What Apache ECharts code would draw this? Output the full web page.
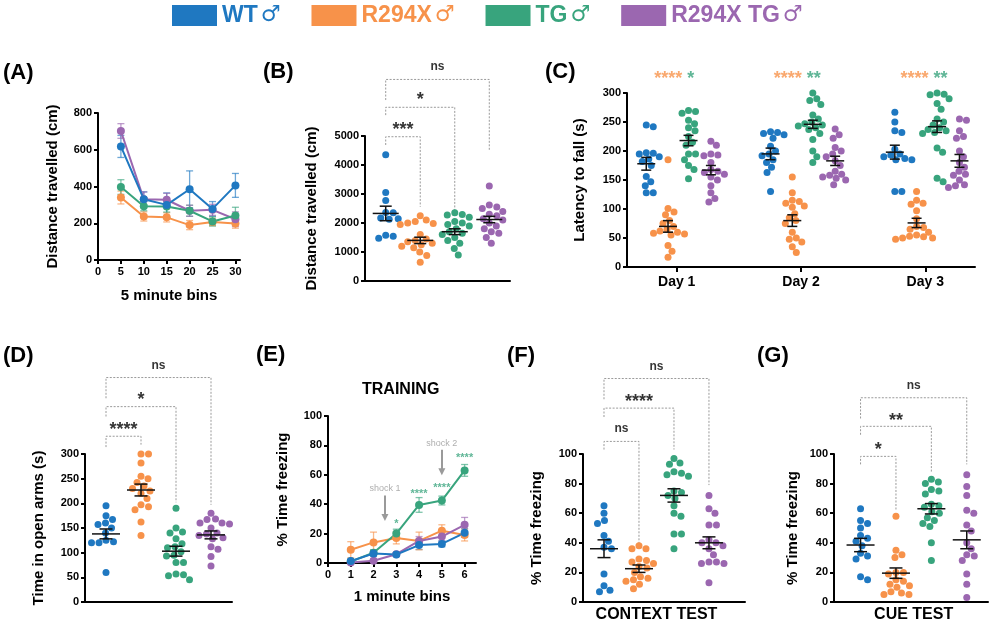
<!DOCTYPE html>
<html><head><meta charset="utf-8">
<script src="https://cdn.jsdelivr.net/npm/echarts@6/dist/echarts.min.js"></script>
<style>html,body{margin:0;padding:0;background:#fff}#c{width:993px;height:627px}</style>
</head><body><div id="c"></div>
<script>
// ---------- DATA ----------
const groups = ['WT♂', 'R294X♂', 'TG♂', 'R294X TG♂'];
const colors = ['#1f78c1', '#f7924a', '#38a47d', '#9b67b0'];

// (A) distance travelled, 5-minute bins
const binsA = [5, 10, 15, 20, 25, 30];
const A_WT = [618, 331, 300, 385, 278, 406];
const A_WT_err = [60, 40, 65, 100, 40, 65];
const A_R = [340, 237, 232, 190, 207, 198];
const A_R_err = [35, 25, 25, 25, 20, 25];
const A_TG = [397, 293, 291, 268, 210, 242];
const A_TG_err = [40, 25, 30, 30, 25, 45];
const A_RTG = [702, 330, 328, 268, 273, 222];
const A_RTG_err = [40, 40, 35, 30, 30, 40];

// (B) total distance travelled (cm)
const B_WT = [4350, 3050, 2780, 2360, 2350, 2170, 2150, 2130, 1580, 1540, 1470];
const B_R = [2250, 2100, 2050, 2000, 1980, 1950, 1600, 1450, 1400, 1350, 1300, 1250, 1200, 1150, 1000, 880, 650];
const B_TG = [2350, 2290, 2280, 2200, 2050, 2000, 1950, 1900, 1800, 1700, 1650, 1600, 1500, 1400, 1300, 1120, 900];
const B_RTG = [3280, 2620, 2550, 2500, 2400, 2300, 2250, 2150, 2100, 2000, 1900, 1800, 1700, 1650, 1500, 1300];
const B_mean = [2330, 1400, 1700, 2120];
const B_sem = [250, 110, 100, 110];

// (C) latency to fall (s), days 1-3
const days = [1, 2, 3];
const C_WT = [
  [245, 242, 197, 195, 196, 190, 186, 182, 175, 156, 147, 140, 128, 128],
  [233, 232, 230, 228, 222, 208, 200, 195, 192, 185, 180, 172, 163, 130],
  [267, 250, 235, 232, 203, 195, 193, 190, 187, 185, 185, 130, 130]];
const C_R = [
  [185, 101, 95, 90, 80, 75, 70, 65, 62, 60, 58, 57, 55, 37, 27, 17],
  [155, 128, 115, 113, 110, 105, 103, 92, 85, 80, 75, 60, 50, 48, 43, 35, 25],
  [130, 115, 110, 108, 97, 83, 70, 68, 65, 60, 55, 53, 52, 50, 50, 48]];
const C_TG = [
  [270, 268, 265, 253, 247, 240, 235, 225, 215, 210, 195, 195, 185, 175, 168, 152],
  [300, 290, 287, 280, 262, 255, 250, 247, 245, 243, 240, 237, 230, 220, 200, 190, 180],
  [300, 298, 297, 290, 282, 272, 255, 250, 245, 240, 237, 235, 232, 230, 205, 198, 153, 147]];
const C_RTG = [
  [217, 210, 195, 193, 192, 180, 168, 165, 163, 160, 155, 150, 140, 128, 118, 112],
  [238, 228, 222, 206, 200, 195, 190, 183, 175, 165, 160, 158, 155, 153, 150, 142],
  [255, 253, 235, 225, 222, 200, 190, 180, 172, 165, 160, 158, 150, 142, 140, 137]];
const C_mean = [[178, 195, 198], [70, 80, 76], [218, 246, 242], [167, 183, 183]];
const C_sem = [[11, 10, 12], [10, 10, 8], [9, 7, 10], [8, 8, 11]];

// (D) time in open arms (s)
const D_WT = [195, 175, 167, 160, 157, 150, 140, 125, 122, 120, 120, 60];
const D_R = [300, 300, 282, 255, 250, 242, 235, 230, 225, 220, 210, 197, 193, 187, 162, 135];
const D_TG = [190, 150, 142, 140, 128, 118, 112, 110, 102, 95, 93, 80, 80, 57, 55, 53, 45];
const D_RTG = [180, 168, 167, 160, 160, 158, 150, 140, 138, 135, 130, 128, 112, 107, 92, 73];
const D_mean = [138, 227, 103, 136];
const D_sem = [10, 12, 10, 8];

// (E) training, % time freezing per 1-minute bin
const binsE = [1, 2, 3, 4, 5, 6];
const E_WT = [1.3, 6.5, 5.8, 12.2, 13, 20.5];
const E_WT_err = [1, 2, 1, 3, 2, 3];
const E_R = [9, 14, 17, 15, 22, 19];
const E_R_err = [5.5, 7, 4, 6, 4, 4];
const E_TG = [1, 7, 20, 39.5, 42.5, 63];
const E_TG_err = [1, 2, 3, 5, 3, 4];
const E_RTG = [0.3, 1.5, 6, 15, 18, 26];
const E_RTG_err = [0.5, 1, 1, 3, 3, 5];

// (F) context test, % time freezing
const F_WT = [65, 60, 55, 53, 45, 41, 37, 36, 19, 11, 8, 7];
const F_R = [38, 36, 36, 29, 28, 27, 26, 24, 23, 20, 17, 16, 15, 14, 12, 9];
const F_TG = [97, 94, 93, 88, 87, 86, 85, 75, 74, 72, 70, 65, 60, 58, 46, 46, 36];
const F_RTG = [72, 63, 60, 52, 52, 42, 40, 40, 38, 36, 32, 27, 27, 26, 26, 13];
const F_mean = [36, 22.5, 72, 40];
const F_sem = [6, 2.5, 4.5, 4];

// (G) cue test, % time freezing
const G_WT = [63, 55, 53, 50, 45, 43, 41, 38, 33, 31, 29, 17, 15];
const G_R = [58, 35, 32, 30, 20, 20, 19, 15, 14, 12, 11, 10, 7, 6, 5, 5];
const G_TG = [83, 81, 80, 76, 75, 73, 66, 65, 64, 61, 60, 57, 55, 53, 51, 40, 28];
const G_RTG = [86, 78, 72, 62, 60, 52, 48, 40, 36, 32, 31, 28, 19, 12, 3];
const G_mean = [38.5, 19.5, 63, 42];
const G_sem = [4.5, 3.5, 3.5, 6];

// ---------- LAYOUT / HELPERS ----------
const F = 'Liberation Sans, Arial, Helvetica, sans-serif';
const grids = [
  {left: 98, top: 113, width: 142, height: 147},   // A
  {left: 365, top: 136, width: 145, height: 145},  // B
  {left: 627, top: 93, width: 348, height: 174},   // C
  {left: 85, top: 454, width: 147, height: 148},   // D
  {left: 328, top: 416, width: 148, height: 147},  // E
  {left: 583, top: 454, width: 162, height: 148},  // F
  {left: 834, top: 454, width: 154, height: 148}   // G
];
const xr = [[0, 31], [-0.6, 3.6], [0.6, 3.4], [-0.6, 3.6], [0, 6.5], [-0.6, 4.03], [-0.75, 3.6]];
const yr = [[0, 800, 200], [0, 5000, 1000], [0, 300, 50], [0, 300, 50], [0, 100, 20], [0, 100, 20], [0, 100, 20]];
const yNames = ['Distance travelled (cm)', 'Distance travelled (cm)', 'Latency to fall (s)', 'Time in open arms (s)',
  '% Time freezing', '% Time freezing', '% Time freezing'];
const yGaps = [38, 46, 40, 39, 38, 39, 34];

const pxX = i => grids[i].width / (xr[i][1] - xr[i][0]);
const pxY = i => grids[i].height / (yr[i][1] - yr[i][0]);

function swarm(vals, cx, gi, d) {
  const sx = pxX(gi), sy = pxY(gi);
  const placed = [], out = new Array(vals.length);
  const order = vals.map((v, i) => i).sort((a, b) => vals[b] - vals[a]);
  for (const i of order) {
    const y = vals[i] * sy;
    let dx = 0;
    for (let k = 0; k < 400; k++) {
      const c = k === 0 ? 0 : (k % 2 ? 1 : -1) * Math.ceil(k / 2) * 0.5;
      if (placed.every(p => (p[0] - c) ** 2 + (p[1] - y) ** 2 >= d * d)) { dx = c; break; }
    }
    placed.push([dx, y]);
    out[i] = [cx + dx / sx, vals[i]];
  }
  return out;
}

const boldTxt = (size, color) => ({fontFamily: F, fontWeight: 'bold', fontSize: size, color: color || '#000'});

const xAxes = [], yAxes = [];
grids.forEach((g, i) => {
  const base = {
    type: 'value', gridIndex: i, min: xr[i][0], max: xr[i][1],
    axisLine: {show: true, onZero: false, lineStyle: {color: '#000', width: 2}},
    axisTick: {show: false}, axisLabel: {show: false}, splitLine: {show: false}
  };
  if (i === 0 || i === 4) {
    const vals = i === 0 ? [0, 5, 10, 15, 20, 25, 30] : [0, 1, 2, 3, 4, 5, 6];
    base.axisTick = {show: true, length: 4, customValues: vals, lineStyle: {color: '#000', width: 2}};
    base.axisLabel = Object.assign({show: true, margin: 6, customValues: vals}, boldTxt(11));
    base.name = i === 0 ? '5 minute bins' : '1 minute bins';
    base.nameLocation = 'middle';
    base.nameGap = i === 0 ? 28 : 26;
    base.nameTextStyle = boldTxt(15);
  } else if (i === 2) {
    base.axisTick = {show: true, length: 5, customValues: days, lineStyle: {color: '#000', width: 2}};
    base.axisLabel = Object.assign({show: true, margin: 8, customValues: days, formatter: v => 'Day ' + v}, boldTxt(14));
  } else if (i === 5 || i === 6) {
    base.axisLabel = Object.assign({show: true, margin: 5, customValues: [1.5],
      formatter: () => (i === 5 ? 'CONTEXT TEST' : 'CUE TEST')}, boldTxt(16));
  }
  xAxes.push(base);
  yAxes.push({
    type: 'value', gridIndex: i, min: yr[i][0], max: yr[i][1], interval: yr[i][2],
    name: yNames[i], nameLocation: 'middle', nameGap: yGaps[i], nameTextStyle: boldTxt(15),
    axisLine: {show: true, onZero: false, lineStyle: {color: '#000', width: 2}},
    axisTick: {show: true, length: 4, lineStyle: {color: '#000', width: 2}},
    axisLabel: Object.assign({margin: 6, formatter: v => String(v)}, boldTxt(11)),
    splitLine: {show: false}
  });
});

const series = [];

function errSeries(gi, xs, m, e, color, cw) {
  series.push({
    type: 'custom', xAxisIndex: gi, yAxisIndex: gi, silent: true, z: 3,
    data: xs.map((x, k) => [x, m[k], e[k]]), encode: {x: 0, y: 1},
    renderItem(p, api) {
      const x = api.value(0), mm = api.value(1), s = api.value(2);
      const t = api.coord([x, mm + s]), b = api.coord([x, Math.max(mm - s, 0)]);
      const st = {stroke: color, lineWidth: 1.3, opacity: 0.65};
      return {type: 'group', children: [
        {type: 'line', shape: {x1: t[0], y1: t[1], x2: b[0], y2: b[1]}, style: st},
        {type: 'line', shape: {x1: t[0] - cw, y1: t[1], x2: t[0] + cw, y2: t[1]}, style: st},
        {type: 'line', shape: {x1: b[0] - cw, y1: b[1], x2: b[0] + cw, y2: b[1]}, style: st}]};
    }
  });
}
function lineSeries(gi, xs, m, color, name) {
  series.push({
    type: 'line', name: name, xAxisIndex: gi, yAxisIndex: gi, data: xs.map((x, k) => [x, m[k]]),
    symbol: 'circle', symbolSize: 8, itemStyle: {color: color}, lineStyle: {color: color, width: 2}, z: 4, silent: true
  });
}
function meanSem(gi, items, hw, cw) {
  series.push({
    type: 'custom', xAxisIndex: gi, yAxisIndex: gi, silent: true, z: 10,
    data: items, encode: {x: 0, y: 1},
    renderItem(p, api) {
      const x = api.value(0), mm = api.value(1), s = api.value(2);
      const c = api.coord([x, mm]), t = api.coord([x, mm + s]), b = api.coord([x, mm - s]);
      const st = {stroke: '#111', lineWidth: 1.5};
      return {type: 'group', children: [
        {type: 'line', shape: {x1: c[0] - hw, y1: c[1], x2: c[0] + hw, y2: c[1]}, style: st},
        {type: 'line', shape: {x1: t[0], y1: t[1], x2: b[0], y2: b[1]}, style: st},
        {type: 'line', shape: {x1: t[0] - cw, y1: t[1], x2: t[0] + cw, y2: t[1]}, style: st},
        {type: 'line', shape: {x1: b[0] - cw, y1: b[1], x2: b[0] + cw, y2: b[1]}, style: st}]};
    }
  });
}
function dots(gi, pts, color) {
  series.push({type: 'scatter', xAxisIndex: gi, yAxisIndex: gi, data: pts, symbolSize: 7,
    itemStyle: {color: color, opacity: 1}, silent: true, z: 5});
}
function bracket(gi, x0, x1, yTop, yL, yR) {
  series.push({type: 'line', xAxisIndex: gi, yAxisIndex: gi, clip: false, silent: true, symbol: 'none',
    data: [[x0, yL], [x0, yTop], [x1, yTop], [x1, yR]],
    lineStyle: {color: '#9a9a9a', width: 1, type: [2, 1.5]}, z: 2});
}
function note(gi, x, y, text, size, color, align) {
  series.push({type: 'scatter', xAxisIndex: gi, yAxisIndex: gi, clip: false, silent: true, symbolSize: 0,
    data: [[x, y]], z: 6,
    label: {show: true, position: 'inside', formatter: text, fontFamily: F, fontWeight: 'bold',
      fontSize: size, color: color || '#000', align: align || 'center', verticalAlign: 'middle'}});
}

// (A)
const aSets = [[A_WT, A_WT_err], [A_R, A_R_err], [A_TG, A_TG_err], [A_RTG, A_RTG_err]];
aSets.forEach((s, g) => errSeries(0, binsA, s[0], s[1], colors[g], 3.5));
[1, 3, 2, 0].forEach(g => lineSeries(0, binsA, aSets[g][0], colors[g], groups[g]));

// dot-plot panels
function dotPanel(gi, sets, means, sems, hw, cw) {
  sets.forEach((v, g) => dots(gi, swarm(v, g, gi, 7.4), colors[g]));
  meanSem(gi, means.map((m, g) => [g, m, sems[g]]), hw, cw);
}
dotPanel(1, [B_WT, B_R, B_TG, B_RTG], B_mean, B_sem, 13, 6);
dotPanel(3, [D_WT, D_R, D_TG, D_RTG], D_mean, D_sem, 14, 6.5);
dotPanel(5, [F_WT, F_R, F_TG, F_RTG], F_mean, F_sem, 14, 6.5);
dotPanel(6, [G_WT, G_R, G_TG, G_RTG], G_mean, G_sem, 14, 6.5);

// (C)
const cOff = [-0.245, -0.07, 0.095, 0.275];
const cSets = [C_WT, C_R, C_TG, C_RTG];
cSets.forEach((set, g) => {
  let pts = [];
  days.forEach((d, k) => { pts = pts.concat(swarm(set[k], d + cOff[g], 2, 6.8)); });
  dots(2, pts, colors[g]);
});
const cItems = [];
cSets.forEach((set, g) => days.forEach((d, k) => cItems.push([d + cOff[g], C_mean[g][k], C_sem[g][k]])));
meanSem(2, cItems, 9, 5);
series.push({type: 'scatter', xAxisIndex: 2, yAxisIndex: 2, clip: false, silent: true, symbolSize: 0, z: 6,
  data: [[0.98, 324, '*'], [1.97, 324, '**'], [2.99, 324, '**']],
  label: {show: true, position: 'inside', formatter: p => '{o|****}{g| ' + p.value[2] + '}',
    rich: {o: boldTxt(18, colors[1]), g: boldTxt(18, colors[2])}}});

// brackets and significance labels
bracket(1, 0, 3, 6950, 6240, 4520); note(1, 1.5, 7390, 'ns', 12);
bracket(1, 0, 2, 5990, 5720, 2450); note(1, 1, 6230, '*', 18);
bracket(1, 0, 1, 4975, 4690, 2560); note(1, 0.5, 5190, '***', 18);

bracket(3, 0, 3, 455, 413, 197); note(3, 1.5, 479, 'ns', 12);
bracket(3, 0, 2, 396, 376, 202); note(3, 1, 409, '*', 18);
bracket(3, 0, 1, 336, 314, 319); note(3, 0.5, 349, '****', 18);

bracket(5, 0, 3, 151, 137, 79); note(5, 1.5, 159, 'ns', 12);
bracket(5, 0, 2, 131, 125, 103); note(5, 1, 135, '****', 18);
bracket(5, 0, 1, 108.5, 103, 38); note(5, 0.5, 117, 'ns', 12);

bracket(6, 0, 3, 138, 124, 93); note(6, 1.5, 146, 'ns', 12);
bracket(6, 0, 2, 118.7, 113, 88); note(6, 1, 122, '**', 18);
bracket(6, 0, 1, 98.4, 93, 62); note(6, 0.5, 102.7, '*', 18);

// (E)
const eSets = [[E_WT, E_WT_err], [E_R, E_R_err], [E_TG, E_TG_err], [E_RTG, E_RTG_err]];
eSets.forEach((s, g) => errSeries(4, binsE, s[0], s[1], colors[g], 3.5));
[1, 2, 3, 0].forEach(g => lineSeries(4, binsE, eSets[g][0], colors[g], groups[g]));
note(4, 3, 26.8, '*', 11, colors[2]);
note(4, 4, 47.2, '****', 11, colors[2]);
note(4, 5, 51.1, '****', 11, colors[2]);
note(4, 6, 71.5, '****', 11, colors[2]);
series.push({type: 'scatter', xAxisIndex: 4, yAxisIndex: 4, clip: false, silent: true, symbolSize: 0, z: 6,
  data: [[2.5, 51, 'shock 1'], [5, 81.6, 'shock 2']],
  label: {show: true, position: 'inside', formatter: p => p.value[2], fontFamily: F, fontSize: 9, color: '#9a9a9a'},
  markLine: {silent: true, symbol: ['none', 'triangle'], symbolSize: [7, 7], label: {show: false},
    lineStyle: {color: '#9a9a9a', width: 2, type: 'solid'},
    data: [[{coord: [2.5, 46]}, {coord: [2.5, 31]}], [{coord: [5, 77]}, {coord: [5, 62]}]]}});

const panelLabels = [['(A)', 3, 74], ['(B)', 263, 73], ['(C)', 545, 73], ['(D)', 3, 357], ['(E)', 256, 356], ['(F)', 507, 357], ['(G)', 757, 357]];

const chart = echarts.init(document.getElementById('c'), null, {renderer: 'canvas'});
chart.setOption({
  animation: false,
  backgroundColor: '#fff',
  grid: grids.map(g => Object.assign({containLabel: false}, g)),
  xAxis: xAxes, yAxis: yAxes,
  legend: {left: 172, top: 4, padding: 0, itemWidth: 45, itemHeight: 21, itemGap: 31, icon: 'rect', selectedMode: false,
    textStyle: {fontFamily: F, fontWeight: 'bold', fontSize: 23,
      rich: {m: {fontFamily: 'DejaVu Sans', fontSize: 22, fontWeight: 'normal', padding: [0, 0, 0, 3]}}},
    formatter: n => n.replace('♂', '{m|♂}'),
    data: groups.map((g, i) => ({name: g, textStyle: {color: colors[i]}}))},
  graphic: panelLabels.map(p => ({type: 'text', left: p[1], top: p[2] - 12,
    style: {text: p[0], fontFamily: F, fontWeight: 'bold', fontSize: 22, fill: '#000'}}))
    .concat([{type: 'text', left: 362, top: 382, style: {text: 'TRAINING', fontFamily: F, fontWeight: 'bold', fontSize: 16, fill: '#000'}}]),
  series: series
});
</script></body></html>
